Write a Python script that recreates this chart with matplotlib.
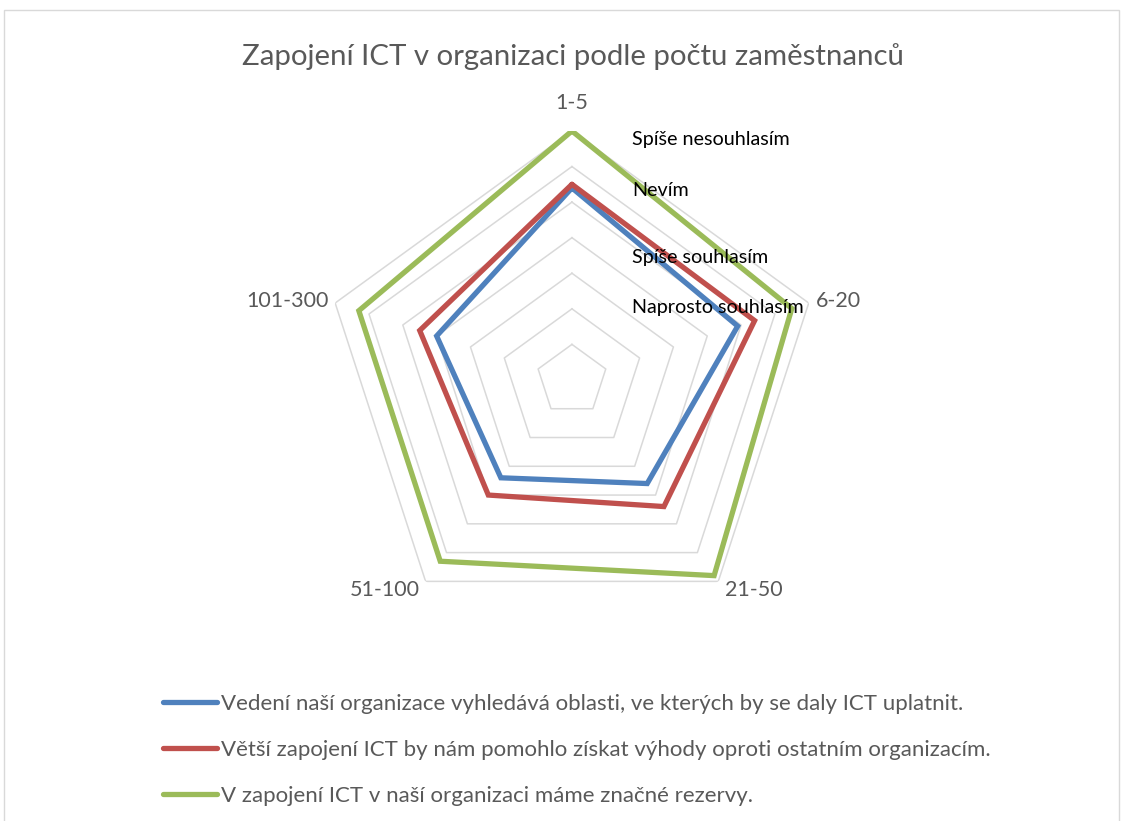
import numpy as np
import matplotlib.pyplot as plt
from matplotlib.patches import Rectangle

plt.rcParams['font.family'] = ['Lato', 'DejaVu Sans']

# Data
categories = ['1-5', '6-20', '21-50', '51-100', '101-300']
series_names = [
    'Vedení naší organizace vyhledává oblasti, ve kterých by se daly ICT uplatnit.',
    'Větší zapojení ICT by nám pomohlo získat výhody oproti ostatním organizacím.',
    'V zapojení ICT v naší organizaci máme značné rezervy.',
]
vedeni = [5.4, 4.9, 3.6, 3.4, 4.0]
vetsi = [5.5, 5.4, 4.4, 4.0, 4.5]
rezervy = [7.0, 6.5, 6.8, 6.3, 6.3]
ring_levels = [1, 2, 3, 4, 5, 6, 7]
scale_labels = ['Spíše nesouhlasím', 'Nevím', 'Spíše souhlasím', 'Naprosto souhlasím']

colors = ['#4F81BD', '#C0504D', '#9BBB59']
grey = '#595959'

fig = plt.figure(figsize=(11.23, 8.21), dpi=100)
ax = fig.add_axes([0.2876, 0.2339, 0.4434, 0.6066], projection='polar')

n = len(categories)
theta = np.pi / 2 - np.arange(n) * 2 * np.pi / n
theta_closed = np.append(theta, theta[0])

# pentagon gridlines
for lvl in ring_levels:
    ax.plot(theta_closed, [lvl] * (n + 1), color='#D9D9D9', lw=1.1, zorder=1)

for vals, col, name in zip([vedeni, vetsi, rezervy], colors, series_names):
    ax.plot(theta_closed, vals + vals[:1], color=col, lw=3.8, label=name,
            solid_joinstyle='miter', solid_capstyle='round', zorder=3)

ax.set_ylim(0, 7)
ax.set_xticks([])
ax.set_yticks([])
ax.grid(False)
ax.spines['polar'].set_visible(False)
ax.set_facecolor('none')

# category labels
label_pos = [(7.8, 'center'), (7.2, 'left'), (7.3, 'left'), (7.3, 'right'), (7.2, 'right')]
for t, cat, (r, ha) in zip(theta, categories, label_pos):
    ax.text(t, r, cat, ha=ha, va='center', fontsize=15.5, color=grey)

# scale labels placed as free text
for lab, ypx in zip(scale_labels, [139, 190, 257, 308]):
    fig.text(632 / 1123, 1 - ypx / 821, lab, ha='left', va='center',
             fontsize=14.2, color='black')

fig.text(573 / 1123, 1 - 57 / 821, 'Zapojení ICT v organizaci podle počtu zaměstnanců',
         ha='center', va='center', fontsize=21.2, color=grey)

fig.legend(loc='upper left', bbox_to_anchor=(163 / 1123, 1 - 694 / 821),
           frameon=False, fontsize=16, labelcolor=grey, handlelength=2.45,
           handletextpad=0.18, labelspacing=1.17, borderaxespad=0, borderpad=0)

fig.patches.append(Rectangle((4 / 1123, -0.01), 1115 / 1123, 1 - 10 / 821 + 0.01,
                             transform=fig.transFigure, fill=False,
                             edgecolor='#D9D9D9', lw=1))

fig.savefig('out.png', dpi=100)
